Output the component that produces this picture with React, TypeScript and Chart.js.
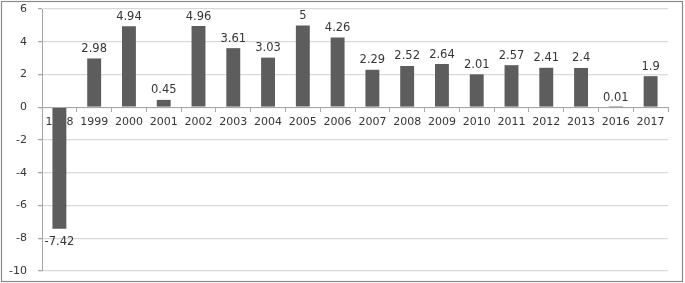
import React, { useEffect, useRef } from "react";
import { Chart, registerables } from "chart.js";

Chart.register(...registerables);

const categories = ["1998","1999","2000","2001","2002","2003","2004","2005","2006","2007","2008","2009","2010","2011","2012","2013","2016","2017"];
const values = [-7.42, 2.98, 4.94, 0.45, 4.96, 3.61, 3.03, 5, 4.26, 2.29, 2.52, 2.64, 2.01, 2.57, 2.41, 2.4, 0.01, 1.9];
const yMin = -10;
const yMax = 6;
const yStep = 2;

const FONT = '"DejaVu Sans"';
const TEXT = "#363636";

const frame = {
  id: "frame",
  beforeDraw(chart: any) {
    const ctx = chart.ctx;
    ctx.save();
    ctx.fillStyle = "#ffffff";
    ctx.fillRect(0, 0, chart.width, chart.height);
    ctx.strokeStyle = "#8a8a8a";
    ctx.lineWidth = 1.2;
    ctx.strokeRect(1.5, 1.5, 681, 280);
    ctx.restore();
  },
};

const valueLabels = {
  id: "valueLabels",
  afterDatasetsDraw(chart: any) {
    const ctx = chart.ctx;
    const meta = chart.getDatasetMeta(0);
    const data = chart.data.datasets[0].data as number[];
    ctx.save();
    ctx.font = `11.5px ${FONT}`;
    ctx.fillStyle = TEXT;
    ctx.textAlign = "center";
    meta.data.forEach((el: any, i: number) => {
      const v = data[i];
      const label = String(v);
      if (v >= 0) {
        ctx.textBaseline = "alphabetic";
        ctx.fillText(label, el.x, el.y - 6.5);
      } else {
        ctx.textBaseline = "top";
        ctx.fillText(label, el.x, el.y + 8);
      }
    });
    ctx.restore();
  },
};

export default function App() {
  const ref = useRef<HTMLCanvasElement | null>(null);
  useEffect(() => {
    if (!ref.current) return;
    const chart = new Chart(ref.current, {
      type: "bar",
      data: {
        labels: categories,
        datasets: [
          {
            data: values,
            backgroundColor: "#5d5d5d",
            borderWidth: 0,
            barPercentage: 0.4,
            categoryPercentage: 1.0,
          },
        ],
      },
      options: {
        responsive: false,
        animation: false,
        layout: { padding: { left: 0, right: 17, top: 9, bottom: 12 } },
        plugins: { legend: { display: false }, tooltip: { enabled: false } },
        scales: {
          x: {
            type: "category",
            position: { y: 0 } as any,
            offset: true,
            z: 1,
            grid: {
              offset: true,
              drawOnChartArea: false,
              drawTicks: true,
              tickLength: 4,
              color: "#a6a6a6",
              tickColor: "#a6a6a6",
            },
            border: { display: true, color: "#a6a6a6", width: 1 },
            ticks: {
              padding: 4,
              autoSkip: false,
              maxRotation: 0,
              color: TEXT,
              font: { family: FONT, size: 11 },
            },
          },
          y: {
            min: yMin,
            max: yMax,
            afterFit(scale: any) {
              scale.width = 42;
              scale.paddingTop = 0;
              scale.paddingBottom = 0;
            },
            grid: {
              color: "#d9d9d9",
              lineWidth: 1.3,
              tickColor: "#a6a6a6",
              tickLength: 4,
              drawTicks: true,
            },
            border: { display: true, color: "#a6a6a6", width: 1 },
            ticks: {
              stepSize: yStep,
              padding: 11,
              color: TEXT,
              font: { family: FONT, size: 11 },
            },
          },
        },
      },
      plugins: [frame, valueLabels],
    });
    return () => chart.destroy();
  }, []);
  return (
    <div style={{ position: "fixed", left: 0, top: 0, width: 685, height: 283 }}>
      <canvas ref={ref} width={685} height={283} style={{ display: "block" }} />
    </div>
  );
}
